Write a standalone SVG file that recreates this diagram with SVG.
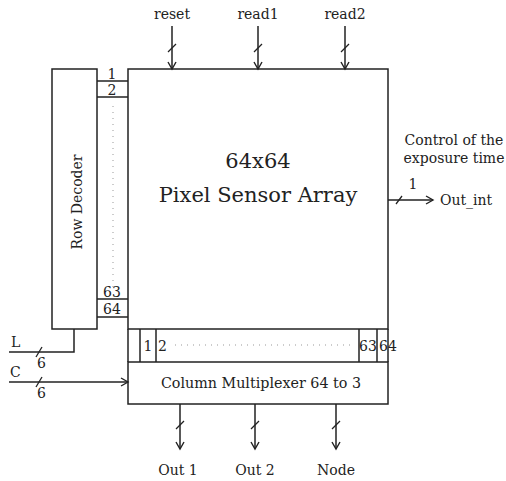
<svg xmlns="http://www.w3.org/2000/svg" width="506" height="481" viewBox="0 0 506 481" font-family="'DejaVu Serif', serif">
<style>
.b{fill:#fff;stroke:#222;stroke-width:1.5}
.l{fill:none;stroke:#222;stroke-width:1.5}
.s{fill:none;stroke:#222;stroke-width:1.3}
.d{fill:none;stroke:#999;stroke-width:1;stroke-dasharray:1 5}
text{font-family:'DejaVu Serif',serif;fill:#222}
.t{font-size:14px}
.m{font-size:14px;text-anchor:middle}
.big{font-size:21px;text-anchor:middle}
</style>
<defs>
<marker id="a" markerWidth="10" markerHeight="10" refX="8" refY="5" orient="auto" markerUnits="userSpaceOnUse">
<polyline points="1,1 8,5 1,9" fill="none" stroke="#222" stroke-width="1.4"/>
</marker>
</defs>
<rect width="506" height="481" fill="#fff"/>
<g id="row-decoder">
<rect class="b" x="52" y="69" width="45" height="260"/>
<text class="m" transform="translate(82,202) rotate(-90)">Row Decoder</text>
</g>
<g id="row-lines">
<line class="l" x1="97" y1="81" x2="128" y2="81"/>
<line class="l" x1="97" y1="97" x2="128" y2="97"/>
<line class="l" x1="97" y1="299" x2="128" y2="299"/>
<line class="l" x1="97" y1="317" x2="128" y2="317"/>
<text class="m" x="112" y="79">1</text>
<text class="m" x="112" y="95">2</text>
<text class="m" x="112" y="297">63</text>
<text class="m" x="112" y="314">64</text>
<line class="d" x1="113" y1="106" x2="113" y2="292"/>
</g>
<g id="pixel-array">
<rect class="b" x="128" y="69" width="260" height="260"/>
<text class="big" x="258" y="168">64x64</text>
<text class="big" x="258" y="202">Pixel Sensor Array</text>
</g>
<g id="col-lines">
<line class="l" x1="140" y1="329" x2="140" y2="362"/>
<line class="l" x1="156" y1="329" x2="156" y2="362"/>
<line class="l" x1="359" y1="329" x2="359" y2="362"/>
<line class="l" x1="377" y1="329" x2="377" y2="362"/>
<line class="l" x1="128" y1="329" x2="128" y2="362"/>
<line class="l" x1="388" y1="329" x2="388" y2="362"/>
<text class="m" x="148" y="351">1</text>
<text class="t" x="158" y="351">2</text>
<text class="m" x="368" y="351">63</text>
<text class="t" x="379" y="351">64</text>
<line class="d" x1="175" y1="345" x2="350" y2="345"/>
</g>
<g id="column-mux">
<rect class="b" x="128" y="362" width="260" height="42"/>
<text class="m" x="261" y="388" style="font-size:14.3px">Column Multiplexer 64 to 3</text>
</g>
<g id="labels">
<text class="m" x="172" y="19">reset</text>
<text class="m" x="258" y="19">read1</text>
<text class="m" x="345" y="19">read2</text>
<text class="m" x="454" y="145">Control of the</text>
<text class="m" x="454" y="163">exposure time</text>
<text class="m" x="413" y="189">1</text>
<text class="t" x="440" y="205">Out_int</text>
<text class="t" x="11" y="347">L</text>
<text class="t" x="37" y="368">6</text>
<text class="t" x="10" y="377">C</text>
<text class="t" x="37" y="398">6</text>
<text class="m" x="178" y="475">Out 1</text>
<text class="m" x="255" y="475">Out 2</text>
<text class="m" x="336" y="475">Node</text>
</g>
<g id="connectors">
<line class="l" x1="172" y1="26" x2="172" y2="69" marker-end="url(#a)"/>
<line class="l" x1="258" y1="26" x2="258" y2="69" marker-end="url(#a)"/>
<line class="l" x1="345" y1="26" x2="345" y2="69" marker-end="url(#a)"/>
<line class="s" x1="168" y1="52" x2="176" y2="44"/>
<line class="s" x1="254" y1="52" x2="262" y2="44"/>
<line class="s" x1="341" y1="52" x2="349" y2="44"/>
<line class="l" x1="388" y1="200" x2="433" y2="200" marker-end="url(#a)"/>
<line class="s" x1="396" y1="204" x2="402" y2="196"/>
<polyline class="l" points="9,352 74,352 74,329"/>
<line class="s" x1="36" y1="357" x2="42" y2="347"/>
<line class="l" x1="9" y1="382" x2="128" y2="382" marker-end="url(#a)"/>
<line class="s" x1="36" y1="387" x2="42" y2="377"/>
<line class="l" x1="180" y1="404" x2="180" y2="449" marker-end="url(#a)"/>
<line class="l" x1="255" y1="404" x2="255" y2="449" marker-end="url(#a)"/>
<line class="l" x1="336" y1="404" x2="336" y2="449" marker-end="url(#a)"/>
<line class="s" x1="176" y1="429" x2="184" y2="421"/>
<line class="s" x1="251" y1="429" x2="259" y2="421"/>
<line class="s" x1="332" y1="429" x2="340" y2="421"/>
</g>
</svg>
